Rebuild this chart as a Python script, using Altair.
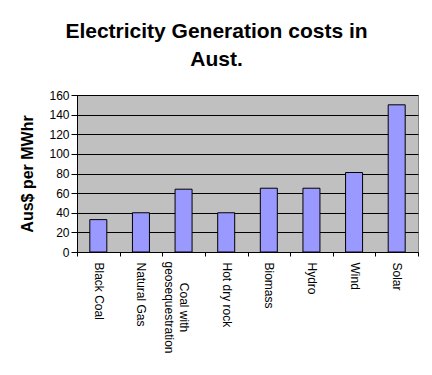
import altair as alt
import pandas as pd

categories = ["Black Coal", "Natural Gas", "Coal with geosequestration", "Hot dry rock",
              "Biomass", "Hydro", "Wind", "Solar"]
costs = [33, 40, 64, 40, 65, 65, 81, 150]
y_ticks = [0, 20, 40, 60, 80, 100, 120, 140, 160]

df = pd.DataFrame({"source": categories, "cost": costs})

FONT = "Liberation Sans"
two_line = "datum.value == 'Coal with geosequestration'"
label_expr = two_line + " ? ['Coal with', 'geosequestration'] : datum.label"

chart = alt.Chart(df).mark_bar(
    size=17, color="#9999FF", stroke="#000000", strokeWidth=1
).encode(
    x=alt.X(
        "source:N",
        sort=None,
        scale=alt.Scale(paddingInner=0, paddingOuter=0),
        axis=alt.Axis(
            title=None,
            labelAngle=90,
            labelAlign=alt.condition(two_line, alt.value("center"), alt.value("left")),
            labelBaseline="middle",
            labelFont=FONT,
            labelFontSize=12,
            labelColor="#000000",
            labelLineHeight=15,
            labelPadding=alt.condition(two_line, alt.value(51), alt.value(6)),
            labelExpr=label_expr,
            tickBand="extent",
            tickSize=4,
            tickColor="#000000",
            domainColor="#000000",
            grid=False,
        ),
    ),
    y=alt.Y(
        "cost:Q",
        scale=alt.Scale(domain=[0, 160], nice=False),
        axis=alt.Axis(
            title="Aus$ per MWhr",
            values=y_ticks,
            titleFont=FONT,
            titleFontSize=16,
            titleFontWeight="bold",
            titleColor="#000000",
            titlePadding=13,
            labelFont=FONT,
            labelFontSize=12,
            labelColor="#000000",
            labelPadding=2,
            tickSize=6,
            tickColor="#000000",
            domainColor="#000000",
            grid=True,
            gridColor="#000000",
            gridOpacity=1,
            gridWidth=1,
        ),
    ),
).properties(
    width=341,
    height=157,
    autosize=alt.AutoSizeParams(type="none"),
    padding={"left": 69, "top": 87, "right": 6, "bottom": 115},
    background="#FFFFFF",
    title=alt.TitleParams(
        text=["Electricity Generation costs in", "Aust."],
        font=FONT,
        fontSize=21,
        fontWeight="bold",
        color="#000000",
        lineHeight=28,
        anchor="middle",
        dx=-31,
        offset=19,
    ),
).configure_view(
    fill="#C0C0C0", stroke="#808080", strokeWidth=1
)

chart.save("out.html", embed_options={"renderer": "svg", "actions": False})
